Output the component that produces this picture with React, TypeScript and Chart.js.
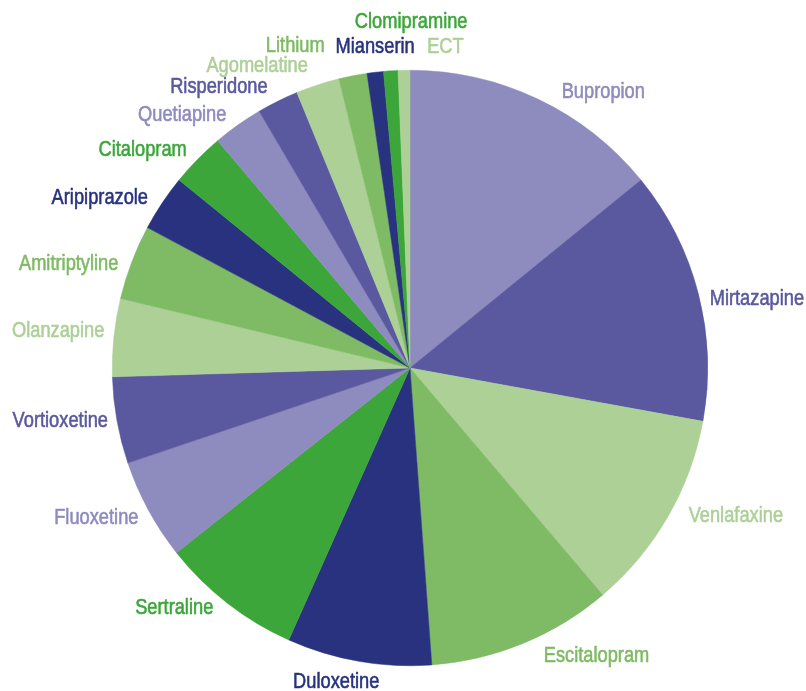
import React, { useEffect, useRef } from "react";
import { Chart, registerables } from "chart.js";

Chart.register(...registerables);

const drugs = [
  "Bupropion", "Mirtazapine", "Venlafaxine", "Escitalopram", "Duloxetine",
  "Sertraline", "Fluoxetine", "Vortioxetine", "Olanzapine", "Amitriptyline",
  "Aripiprazole", "Citalopram", "Quetiapine", "Risperidone", "Agomelatine",
  "Lithium", "Mianserin", "Clomipramine", "ECT",
];

const shares = [
  50.8, 49.4, 39.3, 36.1, 28.2,
  27.6, 19.7, 16.9, 15.2, 14.6,
  11.0, 10.6, 9.8, 8.1, 8.5,
  5.5, 3.2, 2.8, 2.3,
];

const LIGHT_PURPLE = "#8e8bbf";
const DARK_PURPLE = "#5a589e";
const LIGHT_GREEN = "#acd096";
const MID_GREEN = "#7fba64";
const NAVY = "#28327f";
const GREEN = "#3ca63a";

const sliceColors = [
  LIGHT_PURPLE, DARK_PURPLE, LIGHT_GREEN, MID_GREEN, NAVY,
  GREEN, LIGHT_PURPLE, DARK_PURPLE, LIGHT_GREEN, MID_GREEN,
  NAVY, GREEN, LIGHT_PURPLE, DARK_PURPLE, LIGHT_GREEN,
  MID_GREEN, NAVY, GREEN, LIGHT_GREEN,
];

// label layout: angular nudge (deg) from slice middle, and gap beyond the rim (px)
const labelShift = [
  9.6, 3.1, -5.6, -10.7, 3.3,
  6.6, 2.9, 1.5, 0.1, -3.9,
  -4.9, -5.3, -6.6, -7.85, -8.75,
  -8.55, 0.5, 3.9, 7.45,
];
const labelGap = [
  39, 56, 60, 45, 25,
  39, 50, 56, 56, 59,
  56, 47, 43, 42, 41,
  44, 25, 48, 25,
];

const FONT = "'Liberation Sans', Arial, sans-serif";
const CONDENSE = 0.83;

const outerLabels = {
  id: "outerLabels",
  afterDatasetsDraw(chart: any) {
    const ctx = chart.ctx;
    const meta = chart.getDatasetMeta(0);
    meta.data.forEach((arc: any, i: number) => {
      const p = arc.getProps(["x", "y", "startAngle", "endAngle", "outerRadius"], true);
      const mid = (p.startAngle + p.endAngle) / 2 + (labelShift[i] * Math.PI) / 180;
      const r = p.outerRadius + labelGap[i];
      ctx.save();
      ctx.font = `22px ${FONT}`;
      ctx.textAlign = "center";
      ctx.textBaseline = "middle";
      ctx.fillStyle = sliceColors[i];
      ctx.strokeStyle = sliceColors[i];
      ctx.lineWidth = 0.6;
      ctx.lineJoin = "round";
      ctx.translate(p.x + r * Math.cos(mid), p.y + r * Math.sin(mid));
      ctx.scale(CONDENSE, 1);
      ctx.fillText(drugs[i], 0, 0);
      ctx.strokeText(drugs[i], 0, 0);
      ctx.restore();
    });
  },
};

export default function App() {
  const ref = useRef<HTMLCanvasElement>(null);
  useEffect(() => {
    if (!ref.current) return;
    const chart = new Chart(ref.current, {
      type: "pie",
      data: {
        labels: drugs,
        datasets: [
          {
            data: shares,
            backgroundColor: sliceColors,
            borderColor: sliceColors,
            borderWidth: 0.5,
          },
        ],
      },
      options: {
        animation: false,
        responsive: false,
        maintainAspectRatio: false,
        layout: { padding: { top: 70, bottom: 25, left: 112, right: 98 } },
        plugins: {
          legend: { display: false },
          tooltip: { enabled: false },
        },
      },
      plugins: [outerLabels],
    });
    return () => chart.destroy();
  }, []);
  return (
    <div style={{ position: "fixed", left: 0, top: 0, width: 806, height: 691, background: "#fff" }}>
      <canvas ref={ref} width={806} height={691} style={{ width: 806, height: 691 }} />
    </div>
  );
}
